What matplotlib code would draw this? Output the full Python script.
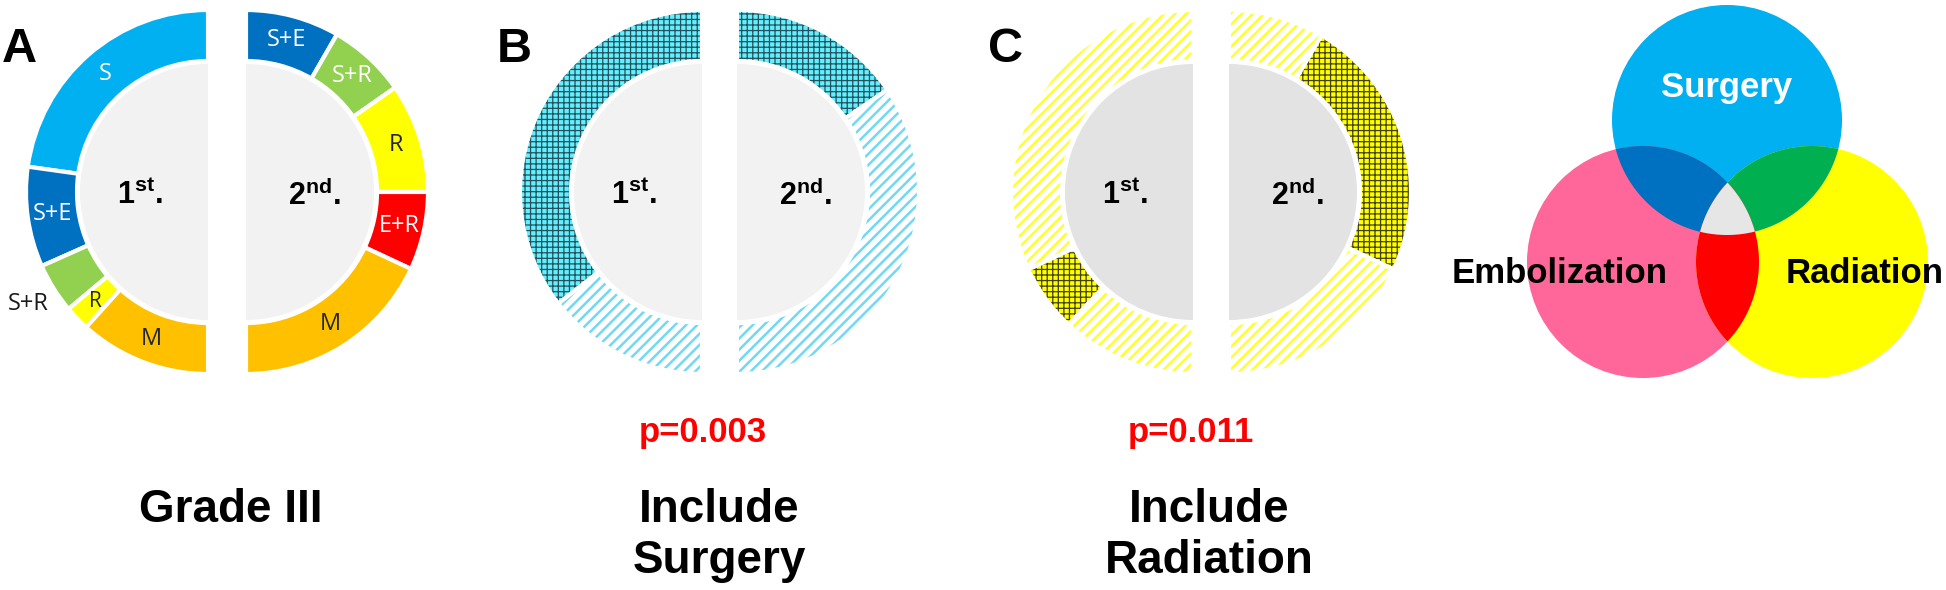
import numpy as np
import matplotlib.pyplot as plt
from matplotlib.patches import Wedge, Circle, Polygon

plt.rcParams['font.family'] = ['Liberation Sans', 'DejaVu Sans']
plt.rcParams['mathtext.fontset'] = 'custom'
plt.rcParams['mathtext.rm'] = 'Liberation Sans:bold'
plt.rcParams['hatch.linewidth'] = 1.3

#### Data ###############################################################
# Panel A: treatment mix, 1st and 2nd treatment (counts)
first_groups = ['S', 'S+E', 'S+R', 'R', 'M']
first_counts = [41, 16, 8, 4, 21]
second_groups = ['S+E', 'S+R', 'R', 'E+R', 'M']
second_counts = [6, 5, 7, 5, 13]

# Panel B: include surgery (%)  -> [included, not included]
surg_first = [71, 29]
surg_second = [31, 69]
# Panel C: include radiation (%) -> [not, included, not]
rad_first = [64, 12, 24]
rad_second = [17, 47, 36]

p_values = ['p=0.003', 'p=0.011']
panel_titles = [['Grade III'], ['Include', 'Surgery'], ['Include', 'Radiation']]

#### Styles #############################################################
col = {'S': '#00B0F0', 'S+E': '#0070C0', 'S+R': '#92D050', 'R': '#FFFF00',
       'E+R': '#FF0000', 'M': '#FFC000'}
txtcol = {'S': 'white', 'S+E': 'white', 'S+R': 'white', 'R': '#23263A',
          'E+R': 'white', 'M': '#23263A'}
hatch_lw = {'+++': 0.9, '///': 1.8}

W, H = 1946, 590
R_OUT, R_IN, R_DISK = 182, 131, 128

fig = plt.figure(figsize=(W/100, H/100), dpi=100)
ax = fig.add_axes([0, 0, 1, 1])
ax.set_xlim(0, W)
ax.set_ylim(0, H)
ax.set_aspect('equal')
ax.axis('off')


def half_ring(cx, cy, vals, side, faces, hatches=None, hcols=None, disk='#F2F2F2'):
    cy = H - cy
    if side == 'left':
        ax.add_patch(Wedge((cx, cy), R_DISK, 90, 270, facecolor=disk, lw=0))
    else:
        ax.add_patch(Wedge((cx, cy), R_DISK, -90, 90, facecolor=disk, lw=0))
    edges = np.concatenate([[0], np.cumsum(vals)]) / np.sum(vals) * 180
    mids = []
    for i in range(len(vals)):
        if side == 'left':
            t1, t2 = 90 + edges[i], 90 + edges[i+1]
        else:
            t1, t2 = 90 - edges[i+1], 90 - edges[i]
        h = hatches[i] if hatches else None
        ec = hcols[i] if hatches else faces[i]
        if h:
            plt.rcParams['hatch.linewidth'] = hatch_lw[h]
        w = Wedge((cx, cy), R_OUT, t1, t2, width=R_OUT-R_IN,
                  facecolor=faces[i], edgecolor=ec, hatch=h, lw=0)
        if h and hasattr(w, 'set_hatch_linewidth'):
            w.set_hatch_linewidth(hatch_lw[h])
        ax.add_patch(w)
        ax.add_patch(Wedge((cx, cy), R_OUT, t1, t2, width=R_OUT-R_IN,
                           facecolor='none', edgecolor='white', lw=3))
        mids.append(np.deg2rad((t1+t2)/2))
    return mids


def centre_labels(cxl, cxr, cy):
    ax.text(cxl - 68, H - cy - 4, r'$\mathrm{1^{st}.}$', fontsize=22, ha='center', va='center')
    ax.text(cxr + 68, H - cy - 4, r'$\mathrm{2^{nd}.}$', fontsize=22, ha='center', va='center')


#### Panel A ############################################################
ca_l, ca_r, cy = 208, 246, 192
m1 = half_ring(ca_l, cy, first_counts, 'left', [col[g] for g in first_groups])
m2 = half_ring(ca_r, cy, second_counts, 'right', [col[g] for g in second_groups])
rl = 157
for g, a in zip(first_groups, m1):
    if g == 'S+R':
        ax.text(28, H - 304, g, fontsize=17, family='Open Sans', color='#1a1a1a',
                ha='center', va='center')
        continue
    fs = 15 if g == 'R' else 17
    ax.text(ca_l + rl*np.cos(a), H - cy + rl*np.sin(a), g, fontsize=fs, family='Open Sans',
            color=txtcol[g], ha='center', va='center')
for g, a in zip(second_groups, m2):
    ax.text(ca_r + rl*np.cos(a), H - cy + rl*np.sin(a), g, fontsize=17, family='Open Sans',
            color=txtcol[g], ha='center', va='center')
centre_labels(ca_l, ca_r, cy)

#### Panel B ############################################################
cyan_x = '#62F0FF'
cyan_l = '#72D8F4'
dark_x = '#25505C'
cb_l, cb_r = 702, 737
half_ring(cb_l, cy, surg_first, 'left', [cyan_x, 'white'], ['+++', '///'], [dark_x, cyan_l])
half_ring(cb_r, cy, surg_second, 'right', [cyan_x, 'white'], ['+++', '///'], [dark_x, cyan_l])
centre_labels(cb_l, cb_r, cy)

#### Panel C ############################################################
ylw = '#FFFF00'
ylw_l = '#FFFF30'
dark_y = '#404010'
cc_l, cc_r = 1193, 1229
half_ring(cc_l, cy, rad_first, 'left', ['white', ylw, 'white'], ['///', '+++', '///'],
          [ylw_l, dark_y, ylw_l], disk='#E3E3E3')
half_ring(cc_r, cy, rad_second, 'right', ['white', ylw, 'white'], ['///', '+++', '///'],
          [ylw_l, dark_y, ylw_l], disk='#E3E3E3')
centre_labels(cc_l, cc_r, cy)

#### Panel letters, p-values, titles ####################################
for letter, x in zip(['A', 'B', 'C'], [2, 497, 988]):
    ax.text(x, H - 62, letter, fontsize=35, fontweight='bold', ha='left', va='baseline')

for p, x in zip(p_values, [703, 1191]):
    ax.text(x, H - 442, p, fontsize=25, fontweight='bold', color='#FF0000',
            ha='center', va='baseline')

for lines, x in zip(panel_titles, [231, 719, 1209]):
    for k, s in enumerate(lines):
        ax.text(x, H - 522 - 51*k, s, fontsize=33, fontweight='bold', ha='center', va='baseline')

#### Venn diagram #######################################################
venn_names = ['Surgery', 'Embolization', 'Radiation']
venn_circles = [(1727, 120, 115), (1643, 262, 116), (1812, 262, 116)]
venn_cols = ['#00B0F0', '#FF6699', '#FFFF00']
pair_cols = {(0, 1): '#0070C0', (0, 2): '#00B050', (1, 2): '#FF0000'}
triple_col = '#E6E6E6'


def overlap(idx, n=1440):
    pts = []
    t = np.linspace(0, 2*np.pi, n, endpoint=False)
    for i in idx:
        cx, cy_, r = venn_circles[i]
        x = cx + r*np.cos(t)
        y = (H - cy_) + r*np.sin(t)
        keep = np.ones(n, bool)
        for j in idx:
            if j == i:
                continue
            ox, oy, orad = venn_circles[j]
            keep &= (x - ox)**2 + (y - (H - oy))**2 <= orad**2 + 1e-6
        pts.append(np.column_stack([x[keep], y[keep]]))
    pts = np.vstack(pts)
    c = pts.mean(axis=0)
    order = np.argsort(np.arctan2(pts[:, 1]-c[1], pts[:, 0]-c[0]))
    return pts[order]


for (cx, cy_, r), c in zip(venn_circles, venn_cols):
    ax.add_patch(Circle((cx, H - cy_), r, facecolor=c, lw=0))
for pair, c in pair_cols.items():
    ax.add_patch(Polygon(overlap(pair), closed=True, facecolor=c, lw=0))
ax.add_patch(Polygon(overlap((0, 1, 2)), closed=True, facecolor=triple_col, lw=0))

ax.text(1727, H - 97, venn_names[0], fontsize=25, fontweight='bold', color='white',
        ha='center', va='baseline')
ax.text(1560, H - 283, venn_names[1], fontsize=25, fontweight='bold', ha='center', va='baseline')
ax.text(1865, H - 283, venn_names[2], fontsize=25, fontweight='bold', ha='center', va='baseline')

fig.savefig('out.png', dpi=100)
